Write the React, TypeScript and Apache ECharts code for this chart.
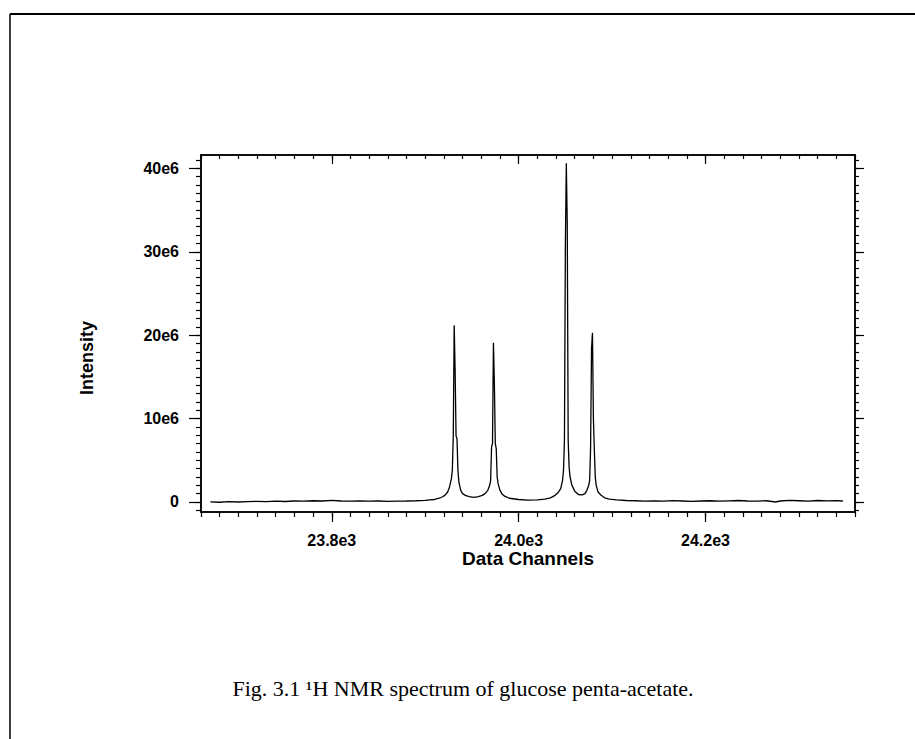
import React, { useEffect, useRef } from "react";
import * as echarts from "echarts";

// Spectrum: x = data channel, y = intensity in units of 1e6
const baselineLeft: [number, number][] = [
  [23670, 0.02], [23680, -0.03], [23690, 0.05], [23700, 0.0], [23710, 0.04],
  [23720, 0.08], [23730, 0.05], [23740, 0.1], [23750, 0.06], [23760, 0.12],
  [23770, 0.1], [23780, 0.15], [23790, 0.12], [23800, 0.2], [23810, 0.12],
  [23820, 0.1], [23830, 0.14], [23840, 0.1], [23850, 0.12], [23860, 0.08],
  [23870, 0.1], [23880, 0.12], [23890, 0.15], [23900, 0.2], [23905, 0.25],
  [23910, 0.3], [23915, 0.45], [23918, 0.6], [23921, 0.8],
];
const peak1: [number, number][] = [
  [23924, 1.2], [23926, 1.8], [23928, 2.8], [23929, 3.8], [23930, 7.8],
  [23931, 21.2], [23932, 15.8], [23933, 7.9], [23934, 7.6], [23935, 3.8],
  [23936, 2.4], [23938, 1.4], [23940, 1.0], [23943, 0.8], [23947, 0.65],
  [23952, 0.56], [23957, 0.65], [23961, 0.8], [23964, 1.0], [23967, 1.4],
];
const peak2: [number, number][] = [
  [23969, 2.0], [23970, 2.6], [23971, 6.6], [23972, 7.0], [23973, 19.1],
  [23974, 14.3], [23975, 7.0], [23976, 6.4], [23977, 3.0], [23978, 2.2],
  [23980, 1.4], [23982, 1.0], [23985, 0.7], [23990, 0.45], [24000, 0.3],
  [24010, 0.22], [24020, 0.25], [24028, 0.35], [24034, 0.5], [24039, 0.8],
  [24042, 1.1], [24045, 1.6],
];
const peak3: [number, number][] = [
  [24047, 2.6], [24048, 3.8], [24049, 7.4], [24050, 30.8], [24051, 40.6],
  [24052, 33.6], [24053, 7.4], [24054, 4.2], [24055, 3.0], [24057, 2.0],
  [24060, 1.3], [24064, 0.9], [24068, 0.85], [24071, 1.0], [24073, 1.4],
];
const peak4: [number, number][] = [
  [24075, 2.0], [24076, 2.6], [24077, 6.5], [24078, 18.4], [24079, 20.3],
  [24080, 10.0], [24081, 6.3], [24082, 3.0], [24083, 2.0], [24085, 1.2],
  [24088, 0.84], [24092, 0.5], [24097, 0.35], [24105, 0.25], [24115, 0.18],
];
const baselineRight: [number, number][] = [
  [24125, 0.15], [24135, 0.1], [24145, 0.14], [24155, 0.1], [24165, 0.16],
  [24175, 0.12], [24185, 0.08], [24195, 0.12], [24205, 0.15], [24215, 0.1],
  [24225, 0.14], [24235, 0.18], [24245, 0.12], [24255, 0.1], [24265, 0.15],
  [24275, 0.0], [24280, 0.12], [24290, 0.2], [24300, 0.15], [24310, 0.1],
  [24320, 0.18], [24330, 0.14], [24340, 0.16], [24347, 0.12],
];

const xMin = 23660;
const xMax = 24360;
const yMin = -1.2;
const yMax = 41.6;
const xMajorTicks = [23800, 24000, 24200];
const yMajorTicks = [0, 10, 20, 30, 40];
const xMinorTicks: number[] = [];
for (let v = 23660; v <= 24360; v += 20) xMinorTicks.push(v);
const yMinorTicks: number[] = [];
for (let v = -1; v <= 41; v += 1) yMinorTicks.push(v);

const caption = "Fig. 3.1 \u00B9H NMR spectrum of glucose penta-acetate.";
const xTitle = "Data Channels";
const yTitle = "Intensity";

const GRID = { left: 201, top: 155, right: 60, bottom: 227 };
const labelFont = { color: "#000", fontFamily: "Liberation Sans, Arial, sans-serif", fontWeight: "bold" as const, fontSize: 16 };
const lineStyle = { color: "#000", width: 1.5 };

function xAxisDef(position: "top" | "bottom", ticks: number[], len: number, inside: boolean, labels: boolean) {
  return {
    type: "value" as const,
    position,
    min: xMin,
    max: xMax,
    axisLine: { show: true, onZero: false, lineStyle },
    axisTick: { show: true, customValues: ticks, length: len, inside, lineStyle: { color: "#000", width: 1.2 } },
    axisLabel: labels
      ? { show: true, customValues: xMajorTicks, margin: 20, formatter: (v: number) => (v / 1000).toFixed(1) + "e3", ...labelFont }
      : { show: false },
    splitLine: { show: false },
  };
}
function yAxisDef(position: "left" | "right", ticks: number[], len: number, inside: boolean, labels: boolean) {
  return {
    type: "value" as const,
    position,
    min: yMin,
    max: yMax,
    axisLine: { show: true, onZero: false, lineStyle },
    axisTick: { show: true, customValues: ticks, length: len, inside, lineStyle: { color: "#000", width: 1.2 } },
    axisLabel: labels
      ? { show: true, customValues: yMajorTicks, margin: 22, formatter: (v: number) => (v === 0 ? "0" : v + "e6"), ...labelFont }
      : { show: false },
    splitLine: { show: false },
  };
}

export default function App() {
  const ref = useRef<HTMLDivElement>(null);
  useEffect(() => {
    if (!ref.current) return;
    const chart = echarts.init(ref.current, undefined, { renderer: "svg" });
    const data = [...baselineLeft, ...peak1, ...peak2, ...peak3, ...peak4, ...baselineRight];
    chart.setOption({
      animation: false,
      backgroundColor: "#fff",
      grid: { ...GRID, containLabel: false },
      xAxis: [
        xAxisDef("bottom", xMinorTicks, 5, false, false),
        xAxisDef("bottom", xMajorTicks, 10, false, true),
        xAxisDef("top", xMinorTicks, 4, true, false),
        xAxisDef("top", xMajorTicks, 9, true, false),
      ],
      yAxis: [
        yAxisDef("left", yMinorTicks, 5, false, false),
        yAxisDef("left", yMajorTicks, 12, false, true),
        yAxisDef("right", yMinorTicks, 4, false, false),
        yAxisDef("right", yMajorTicks, 9, false, false),
      ],
      series: [
        {
          type: "line",
          data,
          xAxisIndex: 0,
          yAxisIndex: 0,
          showSymbol: false,
          symbol: "none",
          lineStyle: { color: "#000", width: 1.3 },
          clip: true,
        },
      ],
      graphic: [
        { type: "line", shape: { x1: 10, y1: 14, x2: 915, y2: 14 }, style: { stroke: "#000", lineWidth: 2 } },
        { type: "line", shape: { x1: 10, y1: 14, x2: 10, y2: 739 }, style: { stroke: "#000", lineWidth: 1.5 } },
        {
          type: "text", x: 87, y: 358, rotation: Math.PI / 2,
          style: { text: yTitle, align: "center", verticalAlign: "middle", fill: "#000", font: "bold 18px 'Liberation Sans', Arial, sans-serif" },
        },
        {
          type: "text", x: 528, y: 558,
          style: { text: xTitle, align: "center", verticalAlign: "middle", fill: "#000", font: "bold 19px 'Liberation Sans', Arial, sans-serif" },
        },
        {
          type: "text", x: 463, y: 688,
          style: { text: caption, align: "center", verticalAlign: "middle", fill: "#000", font: "22px 'Liberation Serif', 'Times New Roman', serif" },
        },
      ],
    });
    return () => chart.dispose();
  }, []);
  return <div ref={ref} style={{ position: "fixed", left: 0, top: 0, width: 915, height: 739 }} />;
}
